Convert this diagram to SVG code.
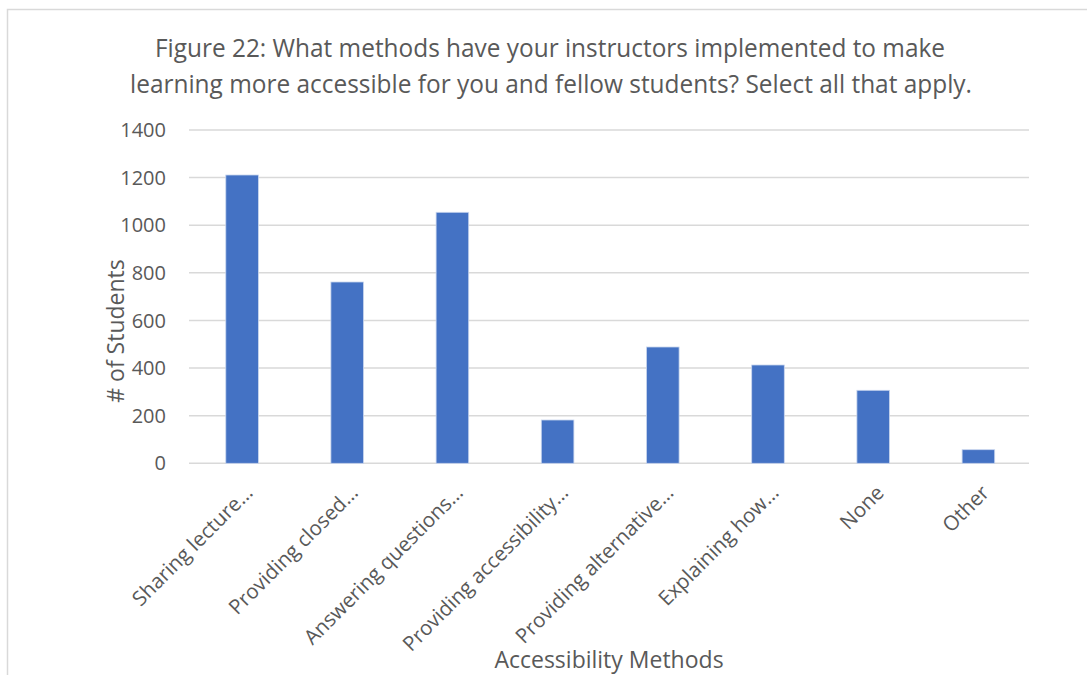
<svg xmlns="http://www.w3.org/2000/svg" width="1087" height="675" viewBox="0 0 1087 675">
<style>
.t{font-family:"Open Sans","Liberation Sans",sans-serif;fill:#595959}
.title{font-size:26px}
.tick{font-size:20px;text-anchor:end}
.cat{font-size:20.5px;text-anchor:end}
.axt{font-size:23px;text-anchor:middle}
.grid{stroke:#d9d9d9;stroke-width:1.5}
.bar{fill:#4472C4;stroke:#c9d6ee;stroke-width:0.8}
</style>
<rect width="1087" height="675" fill="#ffffff"/>
<path d="M7.5 675 V9.5 H1087" fill="none" stroke="#d9d9d9" stroke-width="1.5"/>
<g id="title">
<text class="t title" x="550" y="57" text-anchor="middle" textLength="790" lengthAdjust="spacingAndGlyphs">Figure 22: What methods have your instructors implemented to make</text>
<text class="t title" x="551" y="93" text-anchor="middle" textLength="842" lengthAdjust="spacingAndGlyphs">learning more accessible for you and fellow students? Select all that apply.</text>
</g>
<g id="gridlines">
<line class="grid" x1="189" y1="130" x2="1029" y2="130"/>
<line class="grid" x1="189" y1="177.6" x2="1029" y2="177.6"/>
<line class="grid" x1="189" y1="225.2" x2="1029" y2="225.2"/>
<line class="grid" x1="189" y1="272.8" x2="1029" y2="272.8"/>
<line class="grid" x1="189" y1="320.5" x2="1029" y2="320.5"/>
<line class="grid" x1="189" y1="368.1" x2="1029" y2="368.1"/>
<line class="grid" x1="189" y1="415.7" x2="1029" y2="415.7"/>
<line class="grid" x1="189" y1="463.3" x2="1029" y2="463.3"/>
</g>
<g id="y-axis">
<text class="t tick" x="166" y="137">1400</text>
<text class="t tick" x="166" y="184.6">1200</text>
<text class="t tick" x="166" y="232.2">1000</text>
<text class="t tick" x="166" y="279.8">800</text>
<text class="t tick" x="166" y="327.5">600</text>
<text class="t tick" x="166" y="375.1">400</text>
<text class="t tick" x="166" y="422.7">200</text>
<text class="t tick" x="166" y="470.3">0</text>
<text class="t axt" transform="translate(124 331) rotate(-90)">#&#160;of Students</text>
</g>
<g id="bars">
<rect class="bar" x="225.8" y="175" width="32.6" height="288.3"/>
<rect class="bar" x="330.9" y="282" width="32.6" height="181.3"/>
<rect class="bar" x="436.1" y="212.3" width="32.6" height="251"/>
<rect class="bar" x="541.3" y="420" width="32.6" height="43.3"/>
<rect class="bar" x="646.5" y="347" width="32.6" height="116.3"/>
<rect class="bar" x="751.7" y="365" width="32.6" height="98.3"/>
<rect class="bar" x="856.9" y="390.3" width="32.6" height="73"/>
<rect class="bar" x="962.1" y="449.7" width="32.6" height="13.6"/>
</g>
<g id="categories">
<text class="t cat" transform="translate(254 494) rotate(-45)">Sharing lecture…</text>
<text class="t cat" transform="translate(359.2 494) rotate(-45)">Providing closed…</text>
<text class="t cat" transform="translate(464.4 494) rotate(-45)">Answering questions…</text>
<text class="t cat" transform="translate(569.6 494) rotate(-45)">Providing accessibility…</text>
<text class="t cat" transform="translate(674.8 494) rotate(-45)">Providing alternative…</text>
<text class="t cat" transform="translate(780 494) rotate(-45)">Explaining how…</text>
<text class="t cat" transform="translate(885.2 494) rotate(-45)">None</text>
<text class="t cat" transform="translate(990.4 494) rotate(-45)">Other</text>
<text class="t axt" x="609" y="668">Accessibility Methods</text>
</g>
</svg>
